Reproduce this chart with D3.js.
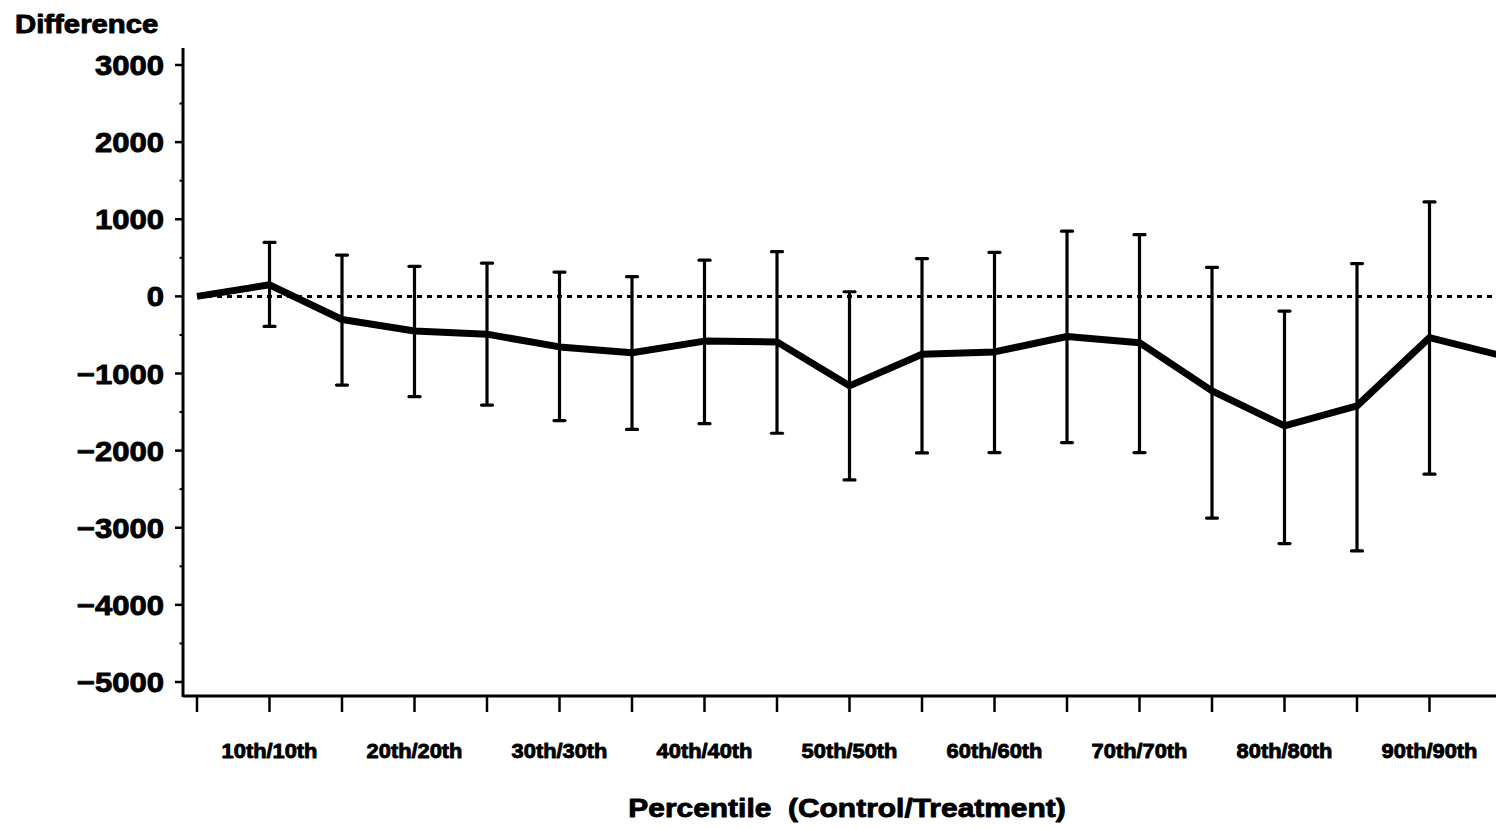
<!DOCTYPE html>
<html>
<head>
<meta charset="utf-8">
<script src="https://cdn.jsdelivr.net/npm/d3@7"></script>
<style>
  html, body { margin: 0; padding: 0; background: #fff; }
  svg { display: block; }
  text { font-family: "Liberation Sans", Arial, sans-serif; font-weight: bold; fill: #000; white-space: pre; }
</style>
</head>
<body>
<svg id="chart" width="1496" height="829"></svg>
<script>
// Percentile pairs (control/treatment), every 5th percentile
const percentiles = [5, 10, 15, 20, 25, 30, 35, 40, 45, 50, 55, 60, 65, 70, 75, 80, 85, 90, 95];
// Estimated difference at each percentile
const difference = [0, 150, -300, -450, -490, -655, -730, -580, -590, -1160, -750, -720, -520, -600, -1225, -1680, -1420, -535, -770];
// Upper and lower confidence limits (null where no interval is drawn)
const upperCI = [null, 700, 535, 390, 430, 315, 255, 470, 580, 60, 490, 570, 845, 800, 375, -190, 425, 1225, null];
const lowerCI = [null, -390, -1150, -1300, -1410, -1610, -1725, -1650, -1775, -2380, -2030, -2025, -1895, -2025, -2875, -3205, -3300, -2305, null];

// Axis ticks and labels
const yMajorTicks = [3000, 2000, 1000, 0, -1000, -2000, -3000, -4000, -5000];
const yMinorTicks = [2500, 1500, 500, -500, -1500, -2500, -3500, -4500];
const xTicks = [5, 10, 15, 20, 25, 30, 35, 40, 45, 50, 55, 60, 65, 70, 75, 80, 85, 90];
const xLabelValues = [10, 20, 30, 40, 50, 60, 70, 80, 90];
const xLabels = ["10th/10th", "20th/20th", "30th/30th", "40th/40th", "50th/50th", "60th/60th", "70th/70th", "80th/80th", "90th/90th"];

const yTitle = "Difference";
const xTitle = "Percentile  (Control/Treatment)";

const svg = d3.select("#chart");

const x = d3.scaleLinear().domain([5, 95]).range([197, 1502]);
const y = d3.scaleLinear().domain([-5000, 3000]).range([682, 65]);

const axisX = 183;      // vertical axis position
const axisY = 696;      // horizontal axis position

// Horizontally widened heavy text
function wideText(g, str, px, py, size, sx, anchor) {
  return g.append("text")
    .attr("transform", `translate(${px},${py}) scale(${sx},1)`)
    .attr("text-anchor", anchor)
    .attr("font-size", size)
    .style("stroke", "#000")
    .style("stroke-width", 0.9)
    .style("stroke-linejoin", "round")
    .text(str);
}

// ---- Y axis ----
const yAxis = svg.append("g").attr("class", "y-axis");
yAxis.append("line")
  .attr("x1", axisX).attr("x2", axisX)
  .attr("y1", 48).attr("y2", axisY + 1)
  .attr("stroke", "#000").attr("stroke-width", 3);

yAxis.selectAll("line.major").data(yMajorTicks).join("line")
  .attr("class", "major")
  .attr("x1", axisX - 8).attr("x2", axisX)
  .attr("y1", d => y(d)).attr("y2", d => y(d))
  .attr("stroke", "#000").attr("stroke-width", 2.5);

yAxis.selectAll("line.minor").data(yMinorTicks).join("line")
  .attr("class", "minor")
  .attr("x1", axisX - 3.5).attr("x2", axisX)
  .attr("y1", d => y(d)).attr("y2", d => y(d))
  .attr("stroke", "#000").attr("stroke-width", 2);

yMajorTicks.forEach(v => {
  const label = v < 0 ? "\u2212" + Math.abs(v) : String(v);
  wideText(yAxis, label, 164, y(v) + 10, 27.5, 1.13, "end");
});

wideText(svg, yTitle, 15, 33, 25.5, 1.15, "start");

// ---- X axis ----
const xAxis = svg.append("g").attr("class", "x-axis");
xAxis.append("line")
  .attr("x1", axisX).attr("x2", 1496)
  .attr("y1", axisY).attr("y2", axisY)
  .attr("stroke", "#000").attr("stroke-width", 3);

xAxis.selectAll("line.tick").data(xTicks).join("line")
  .attr("class", "tick")
  .attr("x1", d => x(d)).attr("x2", d => x(d))
  .attr("y1", axisY).attr("y2", axisY + 16)
  .attr("stroke", "#000").attr("stroke-width", 2.5);

xLabelValues.forEach((v, i) => {
  wideText(xAxis, xLabels[i], x(v), 758, 21, 1.04, "middle");
});

wideText(svg, xTitle, 847, 817, 26.5, 1.13, "middle");

// ---- Zero reference line ----
svg.append("line")
  .attr("x1", x(5)).attr("x2", 1496)
  .attr("y1", y(0)).attr("y2", y(0))
  .attr("stroke", "#000").attr("stroke-width", 3)
  .attr("stroke-dasharray", "5,5");

// ---- Confidence interval bars ----
const ci = percentiles.map((p, i) => ({ p, lo: lowerCI[i], hi: upperCI[i] }))
  .filter(d => d.lo !== null && d.hi !== null);
const bars = svg.append("g").attr("class", "ci");
bars.selectAll("line.stem").data(ci).join("line")
  .attr("class", "stem")
  .attr("x1", d => x(d.p)).attr("x2", d => x(d.p))
  .attr("y1", d => y(d.hi)).attr("y2", d => y(d.lo))
  .attr("stroke", "#000").attr("stroke-width", 3.2);
["hi", "lo"].forEach(k => {
  bars.selectAll("line.cap-" + k).data(ci).join("line")
    .attr("class", "cap-" + k)
    .attr("x1", d => x(d.p) - 5.5).attr("x2", d => x(d.p) + 5.5)
    .attr("y1", d => y(d[k])).attr("y2", d => y(d[k]))
    .attr("stroke", "#000").attr("stroke-width", 3.2)
    .attr("stroke-linecap", "round");
});

// ---- Difference line ----
const series = percentiles.map((p, i) => ({ p, v: difference[i] }));
svg.append("path")
  .datum(series)
  .attr("fill", "none")
  .attr("stroke", "#000")
  .attr("stroke-width", 7)
  .attr("stroke-linejoin", "round")
  .attr("d", d3.line().x(d => x(d.p)).y(d => y(d.v)));
</script>
</body>
</html>
